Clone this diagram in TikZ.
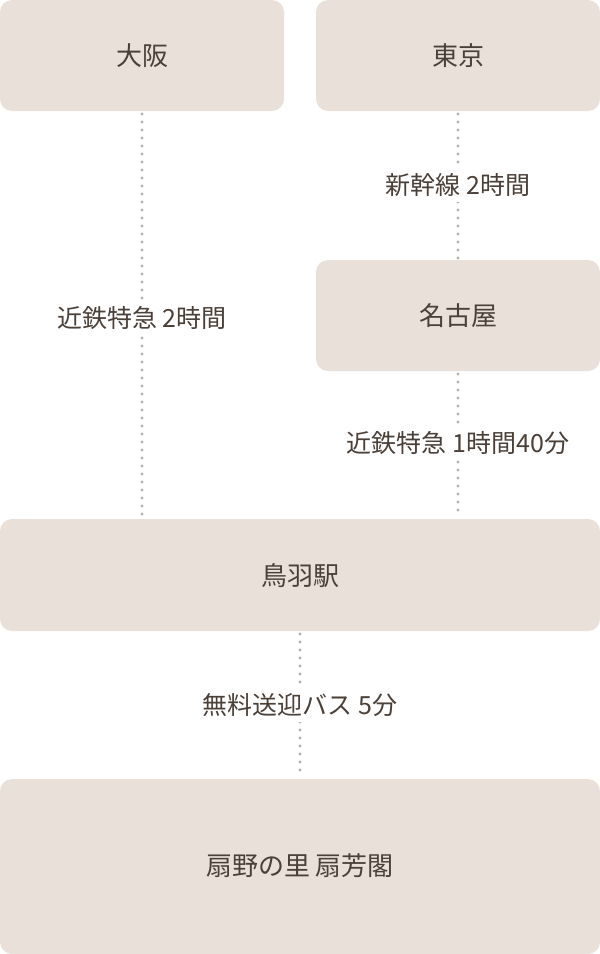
\documentclass[tikz,border=0pt]{standalone}
\usepackage{fontspec}
\setmainfont{Noto Sans CJK JP}
\usepackage{tikz}
\definecolor{boxfill}{HTML}{E9E1D9}
\definecolor{inktext}{HTML}{4A4038}
\definecolor{dotline}{HTML}{B8B0A6}

\begin{document}
\begin{tikzpicture}[x=1pt, y=-1pt, line width=1pt,
    station/.style={fill=boxfill, rounded corners=12pt},
    route/.style={dotline, line width=3.4pt, line cap=round, dash pattern=on 0pt off 8pt},
    txt/.style={text=inktext, font=\fontsize{26}{30}\selectfont},
    lbl/.style={text=inktext, fill=white, inner sep=5pt, font=\fontsize{25}{29}\selectfont}]
    \useasboundingbox (0, 0) rectangle (600, 954);

    % draw station boxes
    \fill[station] (0, 0) rectangle (284, 111);
    \fill[station] (316, 0) rectangle (600, 111);
    \fill[station] (316, 260) rectangle (600, 371);
    \fill[station] (0, 519) rectangle (600, 631);
    \fill[station] (0, 779) rectangle (600, 954);

    % draw routes
    \draw[route] (142, 114) -- (142, 517);
    \draw[route] (458, 114) -- (458, 258);
    \draw[route] (458, 374) -- (458, 517);
    \draw[route] (300, 634) -- (300, 777);

    % draw symbols
    \node[txt] (osaka) at (142, 56) {大阪};
    \node[txt] (tokyo) at (458, 56) {東京};
    \node[txt] (nagoya) at (458, 316) {名古屋};
    \node[txt] (toba) at (300, 576) {鳥羽駅};
    \node[txt] (hotel) at (300, 866) {扇野の里 扇芳閣};

    \node[lbl] (kintetsuA) at (142, 318) {近鉄特急 2時間};
    \node[lbl] (shinkansen) at (458, 185) {新幹線 2時間};
    \node[lbl] (kintetsuB) at (458, 443) {近鉄特急 1時間40分};
    \node[lbl] (bus) at (300, 705) {無料送迎バス 5分};
\end{tikzpicture}
\end{document}
